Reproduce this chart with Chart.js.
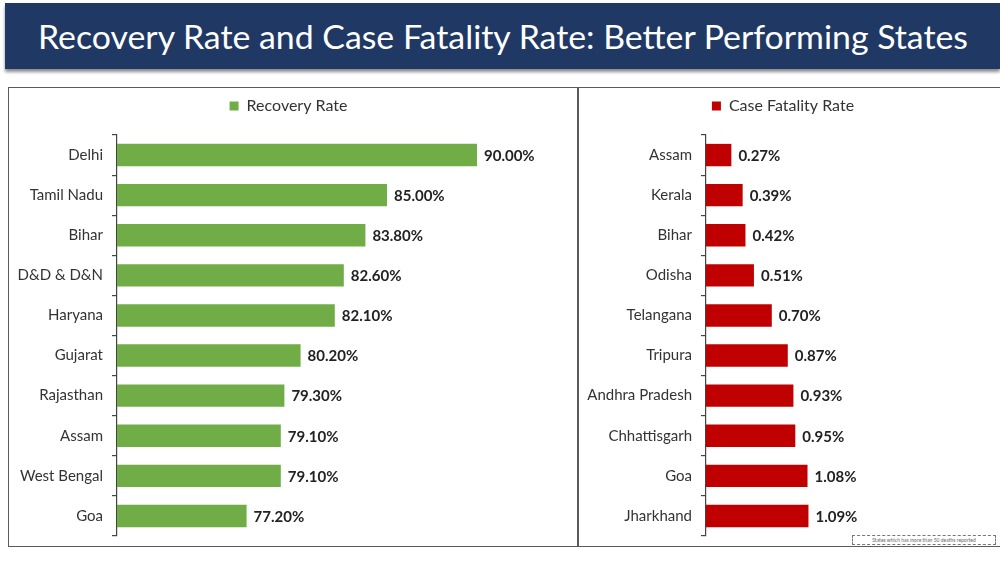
<!DOCTYPE html>
<html>
<head>
<meta charset="utf-8">
<script src="https://cdn.jsdelivr.net/npm/chart.js@4.4.1/dist/chart.umd.min.js"></script>
<style>
  html, body { margin: 0; padding: 0; background: #ffffff; }
  body { width: 1000px; height: 562px; position: relative; overflow: hidden; font-family: "Lato", "Open Sans", sans-serif; }
  #banner {
    position: absolute; left: 5px; top: 3px; width: 995px; height: 66px;
    background: #1f3864; color: #ffffff;
    font-family: "Lato", sans-serif; font-size: 33px; line-height: 66px;
    box-shadow: 0 3px 3px rgba(0, 0, 0, 0.45);
  }
  #banner span { position: absolute; left: 33px; white-space: nowrap; }
  .panel { position: absolute; top: 87px; height: 460px; border: 1.5px solid #5a5a5a; box-sizing: border-box; }
  #left-panel { left: 8px; width: 571px; }
  #right-panel { left: 577px; width: 425px; }
  canvas { position: absolute; }
  #note {
    position: absolute; left: 852px; top: 535px; width: 144px; height: 10px;
    border: 1px dashed #777; box-sizing: border-box; background: #fff;
    font-size: 5px; line-height: 8px; color: #666; text-align: center;
  }
</style>
</head>
<body>
<div id="banner"><span id="title">Recovery Rate and Case Fatality Rate: Better Performing States</span></div>
<div class="panel" id="left-panel"></div>
<div class="panel" id="right-panel"></div>
<canvas id="recoveryChart" width="567" height="465" style="left:10px; top:89px;"></canvas>
<canvas id="fatalityChart" width="420" height="465" style="left:578px; top:89px;"></canvas>
<div id="note">States which has more than 50 deaths reported</div>

<script>
const recoveryStates = ["Delhi", "Tamil Nadu", "Bihar", "D&D & D&N", "Haryana", "Gujarat", "Rajasthan", "Assam", "West Bengal", "Goa"];
const recoveryRates = [90.0, 85.0, 83.8, 82.6, 82.1, 80.2, 79.3, 79.1, 79.1, 77.2];

const fatalityStates = ["Assam", "Kerala", "Bihar", "Odisha", "Telangana", "Tripura", "Andhra Pradesh", "Chhattisgarh", "Goa", "Jharkhand"];
const fatalityRates = [0.27, 0.39, 0.42, 0.51, 0.70, 0.87, 0.93, 0.95, 1.08, 1.09];

const textColor = "#333333";
const labelFont = { family: "Lato, 'Open Sans', sans-serif", size: 15 };

// fit the banner title to the width of the original
const title = document.getElementById("title");
title.style.display = "inline-block";
const scaleX = 930 / title.getBoundingClientRect().width;
title.style.transformOrigin = "left center";
title.style.transform = `scaleX(${scaleX})`;

// push the chart area down below the legend
const legendGap = (extra) => ({
  id: "legendGap",
  beforeInit(chart) {
    const fit = chart.legend.fit;
    chart.legend.fit = function () {
      fit.call(this);
      this.height += extra;
    };
  }
});

const valueLabels = (digits) => ({
  id: "valueLabels",
  afterDatasetsDraw(chart) {
    const { ctx } = chart;
    const meta = chart.getDatasetMeta(0);
    ctx.save();
    ctx.font = "bold 15px Lato, 'Open Sans', sans-serif";
    ctx.fillStyle = "#222222";
    ctx.textBaseline = "middle";
    ctx.textAlign = "left";
    meta.data.forEach((bar, i) => {
      const value = chart.data.datasets[0].data[i];
      ctx.fillText(value.toFixed(digits) + "%", bar.x + 7, bar.y + 1);
    });
    ctx.restore();
  }
});

const buildChart = (canvasId, labels, values, opts) => new Chart(document.getElementById(canvasId), {
  type: "bar",
  data: {
    labels,
    datasets: [{
      label: opts.label,
      data: values,
      backgroundColor: opts.color,
      borderWidth: 0,
      barPercentage: 0.6,
      categoryPercentage: 0.93
    }]
  },
  options: {
    indexAxis: "y",
    responsive: false,
    animation: false,
    layout: { padding: { top: 1, right: opts.padRight, bottom: 3, left: 0 } },
    scales: {
      x: {
        display: false,
        min: opts.min,
        max: opts.max
      },
      y: {
        afterFit: (scale) => { scale.width = opts.axisWidth; },
        grid: {
          offset: true,
          drawOnChartArea: false,
          tickLength: 5,
          color: "#444444",
          lineWidth: 1.2
        },
        border: { display: true, color: "#444444", width: 1.2 },
        ticks: { color: textColor, font: labelFont, padding: 9 }
      }
    },
    plugins: {
      legend: {
        position: "top",
        labels: {
          color: textColor,
          font: { family: "Lato, 'Open Sans', sans-serif", size: 16 },
          boxWidth: 9,
          boxHeight: 9,
          padding: 8
        }
      },
      tooltip: { enabled: false }
    }
  },
  plugins: [legendGap(11), valueLabels(opts.digits)]
});

buildChart("recoveryChart", recoveryStates, recoveryRates, {
  label: "Recovery Rate",
  color: "#70ad47",
  min: 70,
  max: 95,
  axisWidth: 107,
  padRight: 10,
  digits: 2
});

buildChart("fatalityChart", fatalityStates, fatalityRates, {
  label: "Case Fatality Rate",
  color: "#c00000",
  min: 0,
  max: 3,
  axisWidth: 128,
  padRight: 10,
  digits: 2
});
</script>
</body>
</html>
